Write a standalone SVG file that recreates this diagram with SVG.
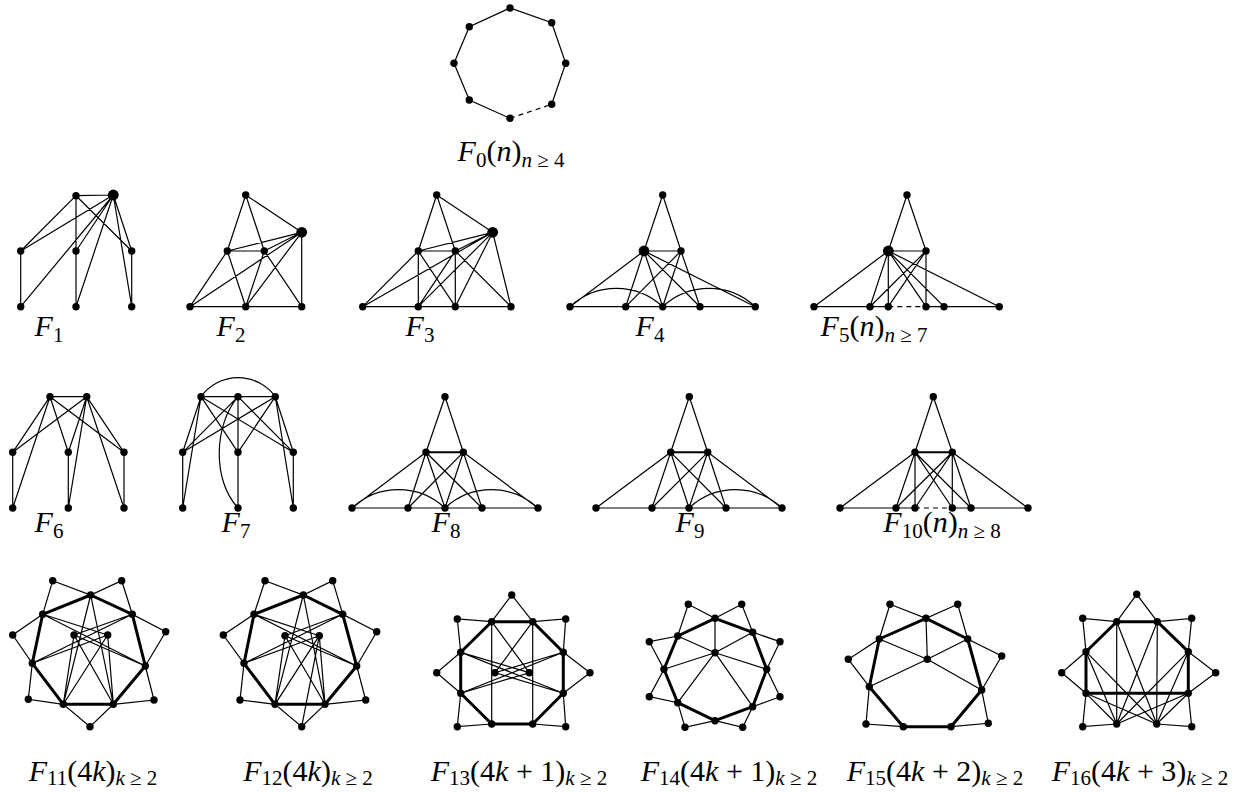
<svg xmlns="http://www.w3.org/2000/svg" width="1241" height="792" viewBox="0 0 1241 792">
<style>
  .e { fill: none; stroke: #000; stroke-width: 1.2; stroke-linecap: round; }
  .d { fill: none; stroke: #000; stroke-width: 1.2; stroke-dasharray: 5 4; }
  .t { fill: none; stroke: #000; stroke-width: 3; stroke-linejoin: round; }
  .m { fill: none; stroke: #000; stroke-width: 2; }
  circle { fill: #000; }
  .v { r: 3.7px; }
  .V { r: 5.4px; }
  .lbl { font-family: "Liberation Serif", "DejaVu Serif", serif; font-size: 30px; fill: #000; }
  .i { font-style: italic; }
  .s { font-size: 21px; }
</style>
<rect width="1241" height="792" fill="#fff"/>

<!-- F0: cycle C_n, one dashed edge -->
<g id="F0">
  <g class="connectors">
    <path class="e" d="M551.7,104.3 L565.7,63.3 L551.7,22.7 L510,8 L469.3,26.7 L454,63.3 L469.3,100 L510,118.3"/>
    <path class="d" d="M510,118.3 L551.7,104.3"/>
  </g>
  <circle class="v" cx="510" cy="8"/><circle class="v" cx="551.7" cy="22.7"/><circle class="v" cx="565.7" cy="63.3"/><circle class="v" cx="551.7" cy="104.3"/>
  <circle class="v" cx="510" cy="118.3"/><circle class="v" cx="469.3" cy="100"/><circle class="v" cx="454" cy="63.3"/><circle class="v" cx="469.3" cy="26.7"/>
  <text class="lbl" x="511" y="161" text-anchor="middle"><tspan class="i">F</tspan><tspan class="s" dy="6">0</tspan><tspan dy="-6">(</tspan><tspan class="i">n</tspan>)<tspan class="s" dy="6"><tspan class="i">n</tspan> ≥ 4</tspan></text>
</g>

<!-- F1 -->
<g id="F1">
  <g class="connectors">
    <path class="e" d="M76,195.7 L113.3,195 M76,195.7 L20.7,251 M76,195.7 L76,306.7 M76,195.7 L131.7,251 M20.7,251 L20.7,306.7 M131.7,251 L131.7,306.7
      M113.3,195 L20.7,251 M113.3,195 L20.7,306.7 M113.3,195 L76,251 M113.3,195 L76,306.7 M113.3,195 L131.7,251 M113.3,195 L131.7,306.7"/>
  </g>
  <circle class="v" cx="76" cy="195.7"/><circle class="V" cx="113.3" cy="195"/>
  <circle class="v" cx="20.7" cy="251"/><circle class="v" cx="76" cy="251"/><circle class="v" cx="131.7" cy="251"/>
  <circle class="v" cx="20.7" cy="306.7"/><circle class="v" cx="76" cy="306.7"/><circle class="v" cx="131.7" cy="306.7"/>
  <text class="lbl" x="49" y="336" text-anchor="middle"><tspan class="i">F</tspan><tspan class="s" dy="6">1</tspan></text>
</g>

<!-- F2 -->
<g id="F2">
  <g class="connectors">
    <path class="e" d="M245.7,195 L227.3,251 M245.7,195 L264.3,251 M245.7,195 L301.7,232.3 M227.3,251 L264.3,251 M227.3,251 L301.7,232.3 M264.3,251 L301.7,232.3
      M301.7,232.3 L190,306.7 M301.7,232.3 L245.7,306.7 M301.7,232.3 L301.7,306.7 M227.3,251 L190,306.7 M227.3,251 L245.7,306.7
      M264.3,251 L245.7,306.7 M264.3,251 L301.7,306.7 M190,306.7 L301.7,306.7"/>
  </g>
  <circle class="v" cx="245.7" cy="195"/><circle class="V" cx="301.7" cy="232.3"/>
  <circle class="v" cx="227.3" cy="251"/><circle class="v" cx="264.3" cy="251"/>
  <circle class="v" cx="190" cy="306.7"/><circle class="v" cx="245.7" cy="306.7"/><circle class="v" cx="301.7" cy="306.7"/>
  <text class="lbl" x="231" y="336" text-anchor="middle"><tspan class="i">F</tspan><tspan class="s" dy="6">2</tspan></text>
</g>

<!-- F3 -->
<g id="F3">
  <g class="connectors">
    <path class="e" d="M436.7,195 L418.3,251 M436.7,195 L455.3,251 M436.7,195 L492.7,232.3 M418.3,251 L455.3,251 M418.3,251 L492.7,232.3 M455.3,251 L492.7,232.3
      M362.7,306.7 L418.3,251 M362.7,306.7 L492.7,232.3 M362.7,306.7 L511,306.7
      M418.3,251 L418.3,306.7 M418.3,251 L455.3,306.7 M455.3,251 L418.3,306.7 M455.3,251 L455.3,306.7 M455.3,251 L511,306.7
      M492.7,232.3 L418.3,306.7 M492.7,232.3 L455.3,306.7 M492.7,232.3 L511,306.7"/>
  </g>
  <circle class="v" cx="436.7" cy="195"/><circle class="V" cx="492.7" cy="232.3"/>
  <circle class="v" cx="418.3" cy="251"/><circle class="v" cx="455.3" cy="251"/>
  <circle class="v" cx="362.7" cy="306.7"/><circle class="v" cx="418.3" cy="306.7"/><circle class="v" cx="455.3" cy="306.7"/><circle class="v" cx="511" cy="306.7"/>
  <text class="lbl" x="420" y="336" text-anchor="middle"><tspan class="i">F</tspan><tspan class="s" dy="6">3</tspan></text>
</g>

<!-- F4 -->
<g id="F4">
  <g class="connectors">
    <path class="e" d="M662.7,195 L644,251 M662.7,195 L681,251 M644,251 L681,251
      M644,251 L570,306.7 M644,251 L625.7,306.7 M644,251 L662.7,306.7 M644,251 L700,306.7 M644,251 L755.3,306.7
      M681,251 L625.7,306.7 M681,251 L662.7,306.7 M681,251 L700,306.7 M570,306.7 L755.3,306.7
      M570,306.7 A67.6,67.6 0 0 1 662.7,306.7 M662.7,306.7 A67.6,67.6 0 0 1 755.3,306.7"/>
  </g>
  <circle class="v" cx="662.7" cy="195"/><circle class="V" cx="644" cy="251"/><circle class="v" cx="681" cy="251"/>
  <circle class="v" cx="570" cy="306.7"/><circle class="v" cx="625.7" cy="306.7"/><circle class="v" cx="662.7" cy="306.7"/><circle class="v" cx="700" cy="306.7"/><circle class="v" cx="755.3" cy="306.7"/>
  <text class="lbl" x="650" y="336" text-anchor="middle"><tspan class="i">F</tspan><tspan class="s" dy="6">4</tspan></text>
</g>

<!-- F5 -->
<g id="F5">
  <g class="connectors">
    <path class="e" d="M907,195 L888.3,251 M907,195 L926,251 M888.3,251 L926,251
      M888.3,251 L814,306.7 M888.3,251 L870,306.7 M888.3,251 L888.3,306.7 M888.3,251 L926,306.7 M888.3,251 L944,306.7 M888.3,251 L999.3,306.7
      M926,251 L870,306.7 M926,251 L888.3,306.7 M926,251 L926,306.7
      M814,306.7 L888.3,306.7 M926,306.7 L999.3,306.7"/>
    <path class="d" d="M888.3,306.7 L926,306.7"/>
  </g>
  <circle class="v" cx="907" cy="195"/><circle class="V" cx="888.3" cy="251"/><circle class="v" cx="926" cy="251"/>
  <circle class="v" cx="814" cy="306.7"/><circle class="v" cx="870" cy="306.7"/><circle class="v" cx="888.3" cy="306.7"/><circle class="v" cx="926" cy="306.7"/><circle class="v" cx="944" cy="306.7"/><circle class="v" cx="999.3" cy="306.7"/>
  <text class="lbl" x="874" y="336" text-anchor="middle"><tspan class="i">F</tspan><tspan class="s" dy="6">5</tspan><tspan dy="-6">(</tspan><tspan class="i">n</tspan>)<tspan class="s" dy="6"><tspan class="i">n</tspan> ≥ 7</tspan></text>
</g>

<!-- F6 -->
<g id="F6">
  <g class="connectors">
    <path class="e" d="M50,396.7 L86.7,396.7 M50,396.7 L12.7,452.3 M50,396.7 L68.3,452.3 M50,396.7 L124,452.3 M50,396.7 L12.7,508
      M86.7,396.7 L12.7,452.3 M86.7,396.7 L68.3,452.3 M86.7,396.7 L124,452.3 M86.7,396.7 L68.3,508 M86.7,396.7 L124,508
      M12.7,452.3 L12.7,508 M68.3,452.3 L68.3,508 M124,452.3 L124,508"/>
  </g>
  <circle class="v" cx="50" cy="396.7"/><circle class="v" cx="86.7" cy="396.7"/>
  <circle class="v" cx="12.7" cy="452.3"/><circle class="v" cx="68.3" cy="452.3"/><circle class="v" cx="124" cy="452.3"/>
  <circle class="v" cx="12.7" cy="508"/><circle class="v" cx="68.3" cy="508"/><circle class="v" cx="124" cy="508"/>
  <text class="lbl" x="49" y="532" text-anchor="middle"><tspan class="i">F</tspan><tspan class="s" dy="6">6</tspan></text>
</g>

<!-- F7 -->
<g id="F7">
  <g class="connectors">
    <path class="e" d="M201,396.7 L275.3,396.7 M201,396.7 A45.8,45.8 0 0 1 275.3,396.7
      M201,396.7 L182.7,452.3 M201,396.7 L182.7,508 M201,396.7 L238,452.3 M201,396.7 L293.3,452.3
      M238,396.7 L182.7,452.3 M238,396.7 L238,508 M238,396.7 L293.3,452.3
      M275.3,396.7 L182.7,452.3 M275.3,396.7 L238,452.3 M275.3,396.7 L293.3,452.3 M275.3,396.7 L293.3,508
      M182.7,452.3 L182.7,508 M293.3,452.3 L293.3,508
      M238,396.7 C214,425 212,480 238,508"/>
  </g>
  <circle class="v" cx="201" cy="396.7"/><circle class="v" cx="238" cy="396.7"/><circle class="v" cx="275.3" cy="396.7"/>
  <circle class="v" cx="182.7" cy="452.3"/><circle class="v" cx="238" cy="452.3"/><circle class="v" cx="293.3" cy="452.3"/>
  <circle class="v" cx="182.7" cy="508"/><circle class="v" cx="238" cy="508"/><circle class="v" cx="293.3" cy="508"/>
  <text class="lbl" x="236" y="532" text-anchor="middle"><tspan class="i">F</tspan><tspan class="s" dy="6">7</tspan></text>
</g>

<!-- F8 -->
<g id="F8">
  <g class="connectors">
    <path class="e" d="M445,396.7 L426,452.3 M445,396.7 L463.3,452.3
      M426,452.3 L352,508 M426,452.3 L408,508 M426,452.3 L445,508 M426,452.3 L482,508
      M463.3,452.3 L408,508 M463.3,452.3 L445,508 M463.3,452.3 L482,508 M463.3,452.3 L538,508
      M352,508 L538,508 M352,508 A68,68 0 0 1 445,508 M445,508 A68,68 0 0 1 538,508"/>
    <path class="m" d="M426,452.3 L463.3,452.3"/>
  </g>
  <circle class="v" cx="445" cy="396.7"/><circle class="v" cx="426" cy="452.3"/><circle class="v" cx="463.3" cy="452.3"/>
  <circle class="v" cx="352" cy="508"/><circle class="v" cx="408" cy="508"/><circle class="v" cx="445" cy="508"/><circle class="v" cx="482" cy="508"/><circle class="v" cx="538" cy="508"/>
  <text class="lbl" x="446" y="532" text-anchor="middle"><tspan class="i">F</tspan><tspan class="s" dy="6">8</tspan></text>
</g>

<!-- F9 -->
<g id="F9">
  <g class="connectors">
    <path class="e" d="M689.3,396.7 L670.7,452.3 M689.3,396.7 L707.7,452.3
      M670.7,452.3 L596,508 M670.7,452.3 L652,508 M670.7,452.3 L689,508 M670.7,452.3 L726,508
      M707.7,452.3 L652,508 M707.7,452.3 L689,508 M707.7,452.3 L726,508 M707.7,452.3 L782,508
      M596,508 L782,508 M689,508 A68,68 0 0 1 782,508"/>
    <path class="m" d="M670.7,452.3 L707.7,452.3"/>
  </g>
  <circle class="v" cx="689.3" cy="396.7"/><circle class="v" cx="670.7" cy="452.3"/><circle class="v" cx="707.7" cy="452.3"/>
  <circle class="v" cx="596" cy="508"/><circle class="v" cx="652" cy="508"/><circle class="v" cx="689" cy="508"/><circle class="v" cx="726" cy="508"/><circle class="v" cx="782" cy="508"/>
  <text class="lbl" x="690" y="532" text-anchor="middle"><tspan class="i">F</tspan><tspan class="s" dy="6">9</tspan></text>
</g>

<!-- F10 -->
<g id="F10">
  <g class="connectors">
    <path class="e" d="M933.3,396.7 L915,452.3 M933.3,396.7 L952.3,452.3
      M915,452.3 L840,508 M915,452.3 L896,508 M915,452.3 L915,508 M915,452.3 L952.3,508 M915,452.3 L971,508
      M952.3,452.3 L896,508 M952.3,452.3 L915,508 M952.3,452.3 L952.3,508 M952.3,452.3 L971,508 M952.3,452.3 L1028,508
      M840,508 L915,508 M952.3,508 L1028,508"/>
    <path class="d" d="M915,508 L952.3,508"/>
    <path class="m" d="M915,452.3 L952.3,452.3"/>
  </g>
  <circle class="v" cx="933.3" cy="396.7"/><circle class="v" cx="915" cy="452.3"/><circle class="v" cx="952.3" cy="452.3"/>
  <circle class="v" cx="840" cy="508"/><circle class="v" cx="896" cy="508"/><circle class="v" cx="915" cy="508"/><circle class="v" cx="952.3" cy="508"/><circle class="v" cx="971" cy="508"/><circle class="v" cx="1028" cy="508"/>
  <text class="lbl" x="942" y="532" text-anchor="middle"><tspan class="i">F</tspan><tspan class="s" dy="6">10</tspan><tspan dy="-6">(</tspan><tspan class="i">n</tspan>)<tspan class="s" dy="6"><tspan class="i">n</tspan> ≥ 8</tspan></text>
</g>

<!-- F11 -->
<g id="F11">
  <g class="connectors">
    <path class="e" d="M42.7,614.3 L52.7,580.7 L90.7,595 L121.7,580.7 L132.3,614.3 L165.7,631.7 L145.3,666 L154,700 L113.3,704.3 L90,726.7 L63.3,704.3 L28.3,699.3 L32.3,663.3 L12.7,635 L42.7,614.3
      M42.7,614.3 L107.7,635 M42.7,614.3 L145.3,666 M132.3,614.3 L74,635 M132.3,614.3 L32.3,663.3
      M32.3,663.3 L107.7,635 M145.3,666 L74,635 M90.7,595 L63.3,704.3 M90.7,595 L113.3,704.3
      M74,635 L63.3,704.3 M74,635 L113.3,704.3 M107.7,635 L63.3,704.3 M107.7,635 L113.3,704.3"/>
    <path class="t" d="M90.7,595 L132.3,614.3 L145.3,666 L113.3,704.3 L63.3,704.3 L32.3,663.3 L42.7,614.3 Z"/>
  </g>
  <circle class="v" cx="90.7" cy="595"/><circle class="v" cx="132.3" cy="614.3"/><circle class="v" cx="145.3" cy="666"/><circle class="v" cx="113.3" cy="704.3"/>
  <circle class="v" cx="63.3" cy="704.3"/><circle class="v" cx="32.3" cy="663.3"/><circle class="v" cx="42.7" cy="614.3"/>
  <circle class="v" cx="52.7" cy="580.7"/><circle class="v" cx="121.7" cy="580.7"/><circle class="v" cx="12.7" cy="635"/><circle class="v" cx="165.7" cy="631.7"/>
  <circle class="v" cx="28.3" cy="699.3"/><circle class="v" cx="154" cy="700"/><circle class="v" cx="90" cy="726.7"/>
  <circle class="v" cx="74" cy="635"/><circle class="v" cx="107.7" cy="635"/>
  <text class="lbl" x="93" y="781" text-anchor="middle"><tspan class="i">F</tspan><tspan class="s" dy="4">11</tspan><tspan dy="-4">(4</tspan><tspan class="i">k</tspan>)<tspan class="s" dy="4"><tspan class="i">k</tspan> ≥ 2</tspan></text>
</g>

<!-- F12 -->
<g id="F12">
  <g class="connectors">
    <path class="e" d="M254,614.3 L265,580.7 L303.3,595 L332.7,580.7 L342.7,614.3 L376.7,631.7 L356.7,666 L365.7,700 L325,704.3 L301.7,726.7 L275,704.3 L240,700 L244,663.3 L223.3,635 L254,614.3
      M254,614.3 L319.3,635.7 M254,614.3 L356.7,666 M342.7,614.3 L285,635.7 M342.7,614.3 L244,663.3
      M244,663.3 L319.3,635.7 M356.7,666 L285,635.7 M303.3,595 L275,704.3 M303.3,595 L325,704.3
      M285,635.7 L275,704.3 M285,635.7 L325,704.3 M319.3,635.7 L275,704.3 M319.3,635.7 L325,704.3
      M301.7,726.7 L319.3,635.7"/>
    <path class="t" d="M303.3,595 L342.7,614.3 L356.7,666 L325,704.3 L275,704.3 L244,663.3 L254,614.3 Z"/>
  </g>
  <circle class="v" cx="303.3" cy="595"/><circle class="v" cx="342.7" cy="614.3"/><circle class="v" cx="356.7" cy="666"/><circle class="v" cx="325" cy="704.3"/>
  <circle class="v" cx="275" cy="704.3"/><circle class="v" cx="244" cy="663.3"/><circle class="v" cx="254" cy="614.3"/>
  <circle class="v" cx="265" cy="580.7"/><circle class="v" cx="332.7" cy="580.7"/><circle class="v" cx="223.3" cy="635"/><circle class="v" cx="376.7" cy="631.7"/>
  <circle class="v" cx="240" cy="700"/><circle class="v" cx="365.7" cy="700"/><circle class="v" cx="301.7" cy="726.7"/>
  <circle class="v" cx="285" cy="635.7"/><circle class="v" cx="319.3" cy="635.7"/>
  <text class="lbl" x="308" y="781" text-anchor="middle"><tspan class="i">F</tspan><tspan class="s" dy="4">12</tspan><tspan dy="-4">(4</tspan><tspan class="i">k</tspan>)<tspan class="s" dy="4"><tspan class="i">k</tspan> ≥ 2</tspan></text>
</g>

<!-- F13 -->
<g id="F13">
  <g class="connectors">
    <path class="e" d="M532.7,724 L565.7,726.7 L563.3,693.3 L590,672.7 L563.3,652.3 L565.7,619 L532.7,621.7 L511.7,595 L491.7,621.7 L457.3,619 L460.7,652.3 L436.7,672.7 L460.7,693.3 L457.3,726.7 L491.7,724
      M491.7,621.7 L491.7,724 M532.7,621.7 L532.7,724 M491.7,621.7 L529.3,672.7 M532.7,621.7 L495,672.7
      M460.7,652.3 L529.3,672.7 M460.7,652.3 L563.3,693.3 M563.3,652.3 L495,672.7 M563.3,652.3 L460.7,693.3
      M460.7,693.3 L529.3,672.7 M563.3,693.3 L495,672.7"/>
    <path class="t" d="M491.7,621.7 L532.7,621.7 L563.3,652.3 L563.3,693.3 L532.7,724 L491.7,724 L460.7,693.3 L460.7,652.3 Z"/>
  </g>
  <circle class="v" cx="491.7" cy="621.7"/><circle class="v" cx="532.7" cy="621.7"/><circle class="v" cx="563.3" cy="652.3"/><circle class="v" cx="563.3" cy="693.3"/>
  <circle class="v" cx="532.7" cy="724"/><circle class="v" cx="491.7" cy="724"/><circle class="v" cx="460.7" cy="693.3"/><circle class="v" cx="460.7" cy="652.3"/>
  <circle class="v" cx="511.7" cy="595"/><circle class="v" cx="457.3" cy="619"/><circle class="v" cx="565.7" cy="619"/><circle class="v" cx="436.7" cy="672.7"/>
  <circle class="v" cx="590" cy="672.7"/><circle class="v" cx="457.3" cy="726.7"/><circle class="v" cx="565.7" cy="726.7"/>
  <circle class="v" cx="495" cy="672.7"/><circle class="v" cx="529.3" cy="672.7"/>
  <text class="lbl" x="519" y="781" text-anchor="middle"><tspan class="i">F</tspan><tspan class="s" dy="4">13</tspan><tspan dy="-4">(4</tspan><tspan class="i">k</tspan> + 1)<tspan class="s" dy="4"><tspan class="i">k</tspan> ≥ 2</tspan></text>
</g>

<!-- F14 -->
<g id="F14">
  <g class="connectors">
    <path class="e" d="M715,618.3 L741.7,604.3 L752.7,632.3 L780,641.7 L766.7,669.3 L780,696.7 L752.7,706.7 L742.7,727.3 L715,720.7 L685,727.3 L677.7,702.7 L649.3,696.7 L664,669.3 L649.3,641.7 L677.7,636 L688.3,604.3 Z
      M715,652.7 L715,618.3 M715,652.7 L677.7,636 M715,652.7 L752.7,632.3 M715,652.7 L664,669.3 M715,652.7 L766.7,669.3 M715,652.7 L677.7,702.7 M715,652.7 L752.7,706.7"/>
    <path class="t" d="M715,618.3 L752.7,632.3 L766.7,669.3 L752.7,706.7 L715,720.7 L677.7,702.7 L664,669.3 L677.7,636 Z"/>
  </g>
  <circle class="v" cx="715" cy="618.3"/><circle class="v" cx="752.7" cy="632.3"/><circle class="v" cx="766.7" cy="669.3"/><circle class="v" cx="752.7" cy="706.7"/>
  <circle class="v" cx="715" cy="720.7"/><circle class="v" cx="677.7" cy="702.7"/><circle class="v" cx="664" cy="669.3"/><circle class="v" cx="677.7" cy="636"/>
  <circle class="v" cx="688.3" cy="604.3"/><circle class="v" cx="741.7" cy="604.3"/><circle class="v" cx="649.3" cy="641.7"/><circle class="v" cx="780" cy="641.7"/>
  <circle class="v" cx="649.3" cy="696.7"/><circle class="v" cx="780" cy="696.7"/><circle class="v" cx="685" cy="727.3"/><circle class="v" cx="742.7" cy="727.3"/>
  <circle class="v" cx="715" cy="652.7"/>
  <text class="lbl" x="729" y="781" text-anchor="middle"><tspan class="i">F</tspan><tspan class="s" dy="4">14</tspan><tspan dy="-4">(4</tspan><tspan class="i">k</tspan> + 1)<tspan class="s" dy="4"><tspan class="i">k</tspan> ≥ 2</tspan></text>
</g>

<!-- F15 -->
<g id="F15">
  <g class="connectors">
    <path class="e" d="M903.3,726.7 L866,724 L869.3,686.7 L848.3,659.3 L879.3,639 L890,604.3 L926,618.3 L957.7,604.3 L967.7,639 L1001.7,656 L981.7,690 L988.3,723.3 L951,726.7
      M927.3,659.3 L926,618.3 M927.3,659.3 L879.3,639 M927.3,659.3 L967.7,639 M927.3,659.3 L869.3,686.7 M927.3,659.3 L981.7,690"/>
    <path class="t" d="M926,618.3 L967.7,639 L981.7,690 L951,726.7 L903.3,726.7 L869.3,686.7 L879.3,639 Z"/>
  </g>
  <circle class="v" cx="926" cy="618.3"/><circle class="v" cx="967.7" cy="639"/><circle class="v" cx="981.7" cy="690"/><circle class="v" cx="951" cy="726.7"/>
  <circle class="v" cx="903.3" cy="726.7"/><circle class="v" cx="869.3" cy="686.7"/><circle class="v" cx="879.3" cy="639"/>
  <circle class="v" cx="890" cy="604.3"/><circle class="v" cx="957.7" cy="604.3"/><circle class="v" cx="848.3" cy="659.3"/><circle class="v" cx="1001.7" cy="656"/>
  <circle class="v" cx="866" cy="724"/><circle class="v" cx="988.3" cy="723.3"/>
  <circle class="v" cx="927.3" cy="659.3"/>
  <text class="lbl" x="935" y="781" text-anchor="middle"><tspan class="i">F</tspan><tspan class="s" dy="4">15</tspan><tspan dy="-4">(4</tspan><tspan class="i">k</tspan> + 2)<tspan class="s" dy="4"><tspan class="i">k</tspan> ≥ 2</tspan></text>
</g>

<!-- F16 -->
<g id="F16">
  <g class="connectors">
    <path class="e" d="M1116.7,724 L1082.7,726.7 L1086,693.3 L1061.7,672.7 L1086,651.7 L1082.7,618.3 L1116.7,621.7 L1136.7,594.3 L1157.3,621.7 L1191.7,618.3 L1188.3,651.7 L1215.7,672.7 L1188.3,693.3 L1191.7,726.7 L1156.7,724
      M1116.7,621.7 L1116.7,724 M1157.3,621.7 L1156.7,724 M1116.7,621.7 L1156.7,724 M1157.3,621.7 L1116.7,724
      M1086,651.7 L1116.7,724 M1086,651.7 L1156.7,724 M1086,693.3 L1116.7,724 M1086,693.3 L1156.7,724
      M1188.3,651.7 L1116.7,724 M1188.3,651.7 L1156.7,724 M1188.3,693.3 L1116.7,724 M1188.3,693.3 L1156.7,724"/>
    <path class="t" d="M1116.7,621.7 L1157.3,621.7 L1188.3,651.7 L1188.3,693.3 L1086,693.3 L1086,651.7 Z"/>
  </g>
  <circle class="v" cx="1116.7" cy="621.7"/><circle class="v" cx="1157.3" cy="621.7"/><circle class="v" cx="1188.3" cy="651.7"/><circle class="v" cx="1188.3" cy="693.3"/>
  <circle class="v" cx="1086" cy="693.3"/><circle class="v" cx="1086" cy="651.7"/>
  <circle class="v" cx="1136.7" cy="594.3"/><circle class="v" cx="1082.7" cy="618.3"/><circle class="v" cx="1191.7" cy="618.3"/><circle class="v" cx="1061.7" cy="672.7"/>
  <circle class="v" cx="1215.7" cy="672.7"/><circle class="v" cx="1082.7" cy="726.7"/><circle class="v" cx="1191.7" cy="726.7"/>
  <circle class="v" cx="1116.7" cy="724"/><circle class="v" cx="1156.7" cy="724"/>
  <text class="lbl" x="1140" y="781" text-anchor="middle"><tspan class="i">F</tspan><tspan class="s" dy="4">16</tspan><tspan dy="-4">(4</tspan><tspan class="i">k</tspan> + 3)<tspan class="s" dy="4"><tspan class="i">k</tspan> ≥ 2</tspan></text>
</g>
</svg>
